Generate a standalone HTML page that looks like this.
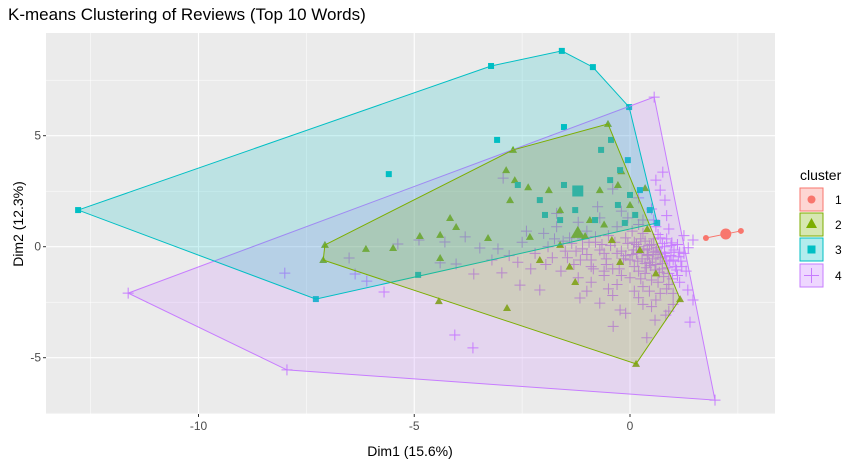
<!DOCTYPE html>
<html><head><meta charset="utf-8"><style>
body{margin:0;background:#fff;font-family:"Liberation Sans",sans-serif}
svg text{font-family:"Liberation Sans",sans-serif}
</style></head><body>
<svg id="chart" width="860" height="466" xmlns="http://www.w3.org/2000/svg">
<text x="8" y="20" font-size="17" fill="#000">K-means Clustering of Reviews (Top 10 Words)</text>
<rect x="46" y="33" width="729" height="381" fill="#EBEBEB"/>
<g id="grid"></g><g id="pts"></g><g id="hulls"></g><g id="axes"></g>
<text x="410" y="456" font-size="14" text-anchor="middle">Dim1 (15.6%)</text>
<text transform="translate(23,224) rotate(-90)" font-size="14" text-anchor="middle">Dim2 (12.3%)</text>
<g>
<text x="800" y="180" font-size="14">cluster</text>
<g><rect x="800" y="188" width="23" height="23" fill="#F8766D" fill-opacity="0.3" stroke="#F8766D"/><circle cx="811.5" cy="199.5" r="4" fill="#F8766D"/><text x="835" y="204" font-size="12">1</text></g>
<g><rect x="800" y="213" width="23" height="23" fill="#7CAE00" fill-opacity="0.3" stroke="#7CAE00"/><polygon points="811.5,218 817,228 806,228" fill="#7CAE00"/><text x="835" y="229" font-size="12">2</text></g>
<g><rect x="800" y="238" width="23" height="23" fill="#00BFC4" fill-opacity="0.3" stroke="#00BFC4"/><rect x="807.5" y="245.5" width="8" height="8" fill="#00BFC4"/><text x="835" y="254" font-size="12">3</text></g>
<g><rect x="800" y="264" width="23" height="23" fill="#C77CFF" fill-opacity="0.3" stroke="#C77CFF"/><path d="M804 275.5h15M811.5 268v15" stroke="#C77CFF"/><text x="835" y="280" font-size="12">4</text></g>
</g>
</svg>
<script>
const xTicks=[-10,-5,0];
const yTicks=[-5,0,5];
const xMinor=[-12.5,-7.5,-2.5,2.5];
const yMinor=[-7.5,-2.5,2.5,7.5];
const hull1=[[1.76,0.39],[2.57,0.71]];
const hull2=[[-7.07,0.08],[-2.71,4.36],[-0.51,5.53],[1.16,-2.36],[0.14,-5.28],[-7.11,-0.6]];
const hull3=[[-12.79,1.65],[-3.22,8.14],[-1.58,8.82],[-0.86,8.09],[-0.02,6.29],[0.63,1.07],[-7.28,-2.36]];
const hull4=[[-11.63,-2.09],[0.56,6.74],[1.97,-6.91],[-7.95,-5.55]];
const pts1=[[1.76,0.39],[2.57,0.71]];
const center1=[2.22,0.57];
const pts2=[[-7.07,0.08],[-2.71,4.36],[-0.51,5.53],[1.16,-2.36],[0.14,-5.28],[-7.11,-0.6],[-2.87,3.45],[-2.67,3.0],[-1.88,2.55],[-2.36,2.68],[-1.62,1.65],[-4.17,1.29],[-4.03,0.89],[-4.40,0.53],[-4.87,0.48],[-5.49,-0.06],[-6.12,-0.10],[-4.40,-0.51],[-3.29,0.39],[-4.43,-2.45],[-2.85,-2.76],[-1.27,-1.59],[-0.70,2.55],[-0.28,2.78],[0.35,2.64],[0,1.88],[-0.93,1.20],[-1.62,0.08],[-2.32,0.44],[-0.42,0.30],[0.23,-0.15],[-0.23,-0.69],[-1.04,0.48],[-2.78,2.1],[-2.09,-0.6],[-0.6,1.0],[0.4,0.8],[-1.4,-0.9],[0.6,-1.2],[-0.2,3.4]];
const center2=[-1.21,0.62];
const pts3=[[-12.79,1.65],[-7.28,-2.36],[-3.22,8.14],[-1.58,8.82],[-0.86,8.09],[-0.02,6.29],[-5.59,3.27],[-3.08,4.81],[-1.53,5.39],[-0.44,4.81],[-0.67,4.36],[-2.60,2.78],[-1.53,2.78],[-2.09,2.10],[-1.97,1.43],[-1.27,1.65],[-0.46,3.00],[-0.23,3.45],[0,2.33],[0.23,2.55],[-0.28,1.88],[0.12,1.43],[-0.81,1.20],[-1.62,1.20],[-0.12,1.07],[0.46,1.65],[-4.91,-1.27],[-0.05,3.90],[0.63,1.07]];
const center3=[-1.21,2.51];
const pts4=[[-11.63,-2.09],[0.56,6.74],[1.97,-6.91],[-7.95,-5.55],[-8.0,-1.19],[-5.38,0.12],[-4.89,0.30],[-4.29,0.21],[-3.82,0.44],[-3.48,-0.06],[-3.06,-0.10],[-4.40,-0.73],[-4.03,-0.78],[-3.62,-1.23],[-2.97,-1.18],[-6.51,-0.51],[-6.37,-1.23],[-6.10,-1.55],[-5.70,-2.04],[-4.06,-3.98],[-3.64,-4.56],[-2.94,3.09],[0.76,3.36],[0.70,2.55],[0.81,2.1],[0.97,0.17],[1.46,0.30],[1.34,-1.95],[1.46,-2.4],[1.39,-3.4],[0.58,-3.31],[0.83,-3.08],[-0.23,-2.85],[-0.7,-2.54],[-1.16,-2.31],[-2.09,-1.95],[-2.55,-1.73],[0.39,-4.1],[-0.39,-3.59],
[-2.5,0.2],[-2.2,-0.3],[-2.0,0.6],[-1.8,-0.5],[-1.7,0.9],[-1.5,-0.2],[-1.4,0.4],[-1.3,-0.8],[-1.2,1.1],[-1.1,-0.1],[-1.0,0.7],[-0.9,-0.6],[-0.8,0.2],[-0.7,1.3],[-0.6,-0.3],[-0.5,0.5],[-0.4,-1.0],[-0.3,0.9],[-0.2,-0.2],[-0.1,0.4],[0.0,-0.6],[0.1,0.2],[0.2,-1.1],[0.3,0.6],[0.4,-0.4],[0.5,0.1],[0.6,-0.8],[0.7,0.4],[0.8,-0.3],[0.9,-1.2],[1.0,-0.6],[1.1,0.1],[1.2,-0.9],[0.5,-1.5],[0.3,-1.8],[0.0,-1.4],[-0.3,-1.7],[-0.6,-1.3],[-0.9,-1.6],[-1.2,-1.4],[-1.6,-1.1],[-2.3,-1.0],[-2.8,-0.4],[0.9,-1.7],[1.1,-1.3],[0.7,-2.1],[0.2,-2.3],[-0.4,-2.2],[-1.0,-2.0],[0.6,0.9],[0.3,1.2],[0.9,0.8],[-0.2,1.6],[0.5,1.7],[0.2,2.2],[-0.4,2.6],[0.6,3.0],[0.1,-0.9],[0.4,-0.1],[0.7,-0.5],[0.2,0.0],[-0.1,-0.4],[0.6,-0.2],[0.8,0.0],[0.95,-0.4],[0.45,-0.7],[0.15,-0.3],[1.05,-0.9],[0.75,-1.0],[0.35,-1.2],[-0.25,-1.0],[-0.55,-0.8],[-0.85,-1.0],[-1.15,-0.6],[-1.45,-0.5],[-0.65,0.1],[-0.95,0.2],[-0.35,0.2],[0.05,0.7],[-1.9,0.0],[-2.6,-0.7],[-3.2,-0.6],[-1.7,1.5],[-0.75,1.8],[1.0,-2.6],[0.5,-2.7],[-0.1,-3.0],[1.25,-0.3],[1.15,-1.6],
[0.32,-0.15],[0.42,-0.35],[0.52,-0.55],[0.62,-0.05],[0.72,-0.25],[0.82,-0.45],[0.92,-0.65],[1.02,-0.15],[1.12,-0.45],[0.35,0.25],[0.55,0.35],[0.75,0.15],[0.95,0.05],[0.28,-0.55],[0.48,-0.85],[0.68,-1.15],[0.88,-0.95],[1.08,-1.05],[0.58,-1.05],[0.78,-1.35],[0.98,-1.45],[0.38,-0.95],[0.18,-0.65],[0.08,-0.15],[0.25,0.35],[0.65,0.55],[0.85,0.35],[1.15,-0.25],[1.18,-0.65],[0.45,0.05],[0.65,-0.35],[0.85,-0.65],[0.55,-0.25],[0.75,-0.75],[0.95,-0.25],[0.35,-0.75],[0.15,0.1],[0.05,-0.35],[-0.05,0.15],[-0.15,-0.55],[-0.3,-0.3],[-0.45,0.05],[-0.55,-0.55],[-0.7,-0.15],[-0.8,0.45],[-1.0,-0.35],[-1.1,0.35],[-1.25,-0.2],[-1.35,0.15],[-1.55,0.25],[-0.9,-0.9],[-0.6,-1.1],[-0.2,-1.3],[0.25,-1.45],[0.65,-1.6],[0.85,-1.9],[1.0,-2.1],[0.45,-2.0],[0.1,-2.0],[-0.5,-1.9],[0.6,-2.4],[0.9,-2.9],[0.3,-2.6],[-1.95,-0.8],[-2.4,0.7],[-1.75,0.35],[1.3,-1.1],[1.25,0.5],[1.35,-0.05],[0.55,1.2],[0.85,1.4],[0.2,1.0],[-0.05,1.3]];
const X0=630,SX=43.15,Y0=246.7,SY=22.2;
const sx=v=>X0+v*SX, sy=v=>Y0-v*SY;
const NS="http://www.w3.org/2000/svg";
function mk(tag,attrs,parent){const e=document.createElementNS(NS,tag);for(const k in attrs)e.setAttribute(k,attrs[k]);parent.appendChild(e);return e;}
const grid=document.getElementById('grid');
xMinor.forEach(v=>{const l=mk('line',{x1:sx(v),x2:sx(v),y1:33,y2:414,stroke:'#fff','stroke-width':0.5},grid);});
yMinor.forEach(v=>{const l=mk('line',{x1:46,x2:775,y1:sy(v),y2:sy(v),stroke:'#fff','stroke-width':0.5},grid);});
xTicks.forEach(v=>{const l=mk('line',{x1:sx(v),x2:sx(v),y1:33,y2:414,stroke:'#fff','stroke-width':1.1},grid);});
yTicks.forEach(v=>{const l=mk('line',{x1:46,x2:775,y1:sy(v),y2:sy(v),stroke:'#fff','stroke-width':1.1},grid);});
const axes=document.getElementById('axes');
xTicks.forEach(v=>{mk('line',{x1:sx(v),x2:sx(v),y1:414,y2:417,stroke:'#333'},axes);const t=mk('text',{x:sx(v),y:430,'font-size':12,fill:'#4D4D4D','text-anchor':'middle'},axes);t.textContent=v;});
yTicks.forEach(v=>{mk('line',{x1:43,x2:46,y1:sy(v),y2:sy(v),stroke:'#333'},axes);const t=mk('text',{x:41,y:sy(v)+4,'font-size':12,fill:'#4D4D4D','text-anchor':'end'},axes);t.textContent=v;});
const P=document.getElementById('pts');
pts4.forEach(p=>{const e=mk('path',{d:`M${sx(p[0])-5.5} ${sy(p[1])}h11M${sx(p[0])} ${sy(p[1])-5.5}v11`,stroke:'#C77CFF','stroke-width':1},P);});
pts2.forEach(p=>{const x=sx(p[0]),y=sy(p[1]);const e=mk('polygon',{points:`${x},${y-4} ${x+4},${y+3} ${x-4},${y+3}`,fill:'#7CAE00'},P);});
pts3.forEach(p=>{const e=mk('rect',{x:sx(p[0])-3,y:sy(p[1])-3,width:6,height:6,fill:'#00BFC4'},P);});
pts1.forEach(p=>{const e=mk('circle',{cx:sx(p[0]),cy:sy(p[1]),r:3,fill:'#F8766D'},P);});
let c=mk('circle',{cx:sx(center1[0]),cy:sy(center1[1]),r:5.5,fill:'#F8766D'},P);


let cx=sx(center2[0]),cy=sy(center2[1]);
c=mk('polygon',{points:`${cx},${cy-7} ${cx+7},${cy+5} ${cx-7},${cy+5}`,fill:'#7CAE00'},P);


c=mk('rect',{x:sx(center3[0])-5.5,y:sy(center3[1])-5.5,width:11,height:11,fill:'#00BFC4'},P);


const H=document.getElementById('hulls');
[[hull4,'#C77CFF','4'],[hull3,'#00BFC4','3'],[hull2,'#7CAE00','2'],[hull1,'#F8766D','1']].forEach(([h,col,n])=>{const e=mk('polygon',{points:h.map(p=>sx(p[0])+','+sy(p[1])).join(' '),fill:col,'fill-opacity':0.2,stroke:col,'stroke-width':1},H);});
</script>
</body></html>
